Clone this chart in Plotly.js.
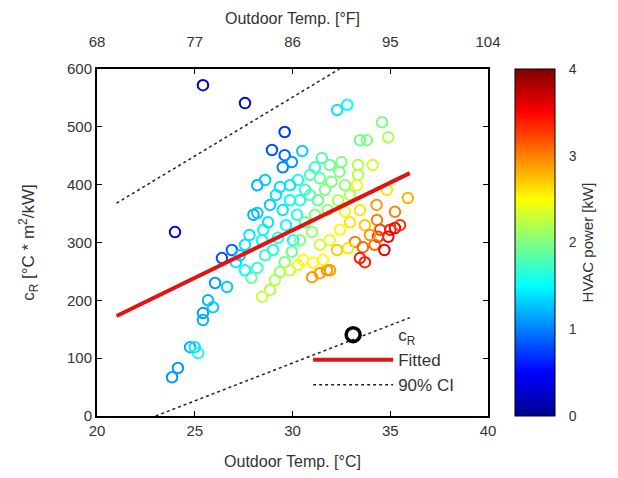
<!DOCTYPE html>
<html><head><meta charset="utf-8">
<script src="https://cdn.plot.ly/plotly-3.0.1.min.js"></script>
<style>html,body{margin:0;padding:0;background:#fff}</style>
</head><body><div id="chart" style="width:618px;height:478px"></div>
<script>
// Outdoor temperature [°C]
const tempC = [25.42,27.57,23.99,23.84,24.14,24.76,25.17,25.0,25.42,25.42,25.68,25.93,26.04,26.65,26.39,26.9,27.1,27.3,27.57,27.8,28.0,28.2,28.5,28.75,28.85,29.15,29.36,29.5,29.67,29.87,30.03,30.23,29.6,28.95,29.6,29.5,29.97,30.5,32.28,32.8,31.15,31.5,31.9,32.5,30.9,31.4,34.58,33.45,33.8,34.9,32.4,33.35,34.1,33.35,33.3,34.83,35.9,34.3,35.24,34.32,34.48,35.0,35.24,34.9,34.37,33.2,33.6,33.45,32.28,31.92,31.0,31.4,31.76,30.54,31.05,31.56,28.85,28.44,30.28,30.64,29.87,30.38,30.9,31.3,31.66,32.0,32.68,32.94,32.33,31.8,31.15,30.64,31.0,30.38,29.97,29.6,29.36,29.1,29.87,30.28,31.4,31.9,32.43,32.94,32.68,33.45,33.7,32.84,28.6,28.2,27.9,28.44,29.0,29.26,27.57,28.2,28.6,34.2,33.96,35.5,34.7,33.7];
// c_R [°C * m^2/kW]
const cR = [572,541,318,67,83,119,109,119,178,166,200,188,230,223,273,287,266,278,296,313,348,351,322,335,365,382,396,356,330,373,304,348,491,460,451,430,439,458,529,538,430,446,434,439,417,411,508,477,477,482,422,434,434,417,399,391,377,365,353,339,322,322,325,310,310,301,292,273,287,252,240,247,252,270,265,270,218,206,408,391,399,373,382,373,391,405,399,382,373,356,348,335,318,304,284,266,249,235,252,261,296,304,322,335,353,356,330,290,278,256,239,304,287,308,252,399,408,296,313,330,287,266];
// HVAC power [kW]
const power = [0.3,0.35,0.4,1.1,1.1,1.2,1.6,1.4,1.1,1.2,1.2,1.3,1.1,1.3,0.8,0.9,1.4,1.3,1.4,1.4,1.2,1.3,1.5,1.4,1.3,1.4,1.4,1.4,1.5,1.5,1.5,1.6,0.7,0.8,0.9,1.0,1.1,1.3,1.4,1.5,1.7,1.8,1.9,2.0,1.8,1.9,2.0,1.9,2.0,2.2,2.0,2.2,2.3,2.2,2.4,2.6,2.8,2.9,3.0,3.0,3.2,3.4,3.5,3.5,3.3,3.0,3.1,3.4,2.7,2.9,2.9,2.9,2.9,2.5,2.5,2.5,2.2,2.3,1.6,1.7,1.4,1.6,1.8,1.9,2.0,2.0,2.1,2.2,2.2,2.1,2.0,1.9,2.1,2.0,1.9,2.0,2.1,2.2,2.3,2.4,2.3,2.4,2.5,2.6,2.4,2.6,2.7,2.6,1.7,1.7,1.9,1.5,1.6,1.6,1.5,1.2,1.3,3.1,2.9,3.3,3.6,3.4];
// Fitted line and 90% confidence bounds
const fitX = [21, 36], fitY = [173, 420];
const ciUpX = [21, 32.4], ciUpY = [368, 600];
const ciLoX = [23, 36], ciLoY = [0, 170];
// Top axis (°F)
const tickF = [68, 77, 86, 95, 104];
const rangeF = [68, 104];
const rangeCR = [0, 600];

const FONT = 'Liberation Sans, Arial, sans-serif';
const jet = [[0,'rgb(0,0,143)'],[0.125,'rgb(0,0,255)'],[0.375,'rgb(0,255,255)'],[0.625,'rgb(255,255,0)'],[0.875,'rgb(255,0,0)'],[1,'rgb(128,0,0)']];
const dotLine = {color: '#222', width: 1.5, dash: 'dot'};

const traces = [
  {x: tempC, y: cR, type: 'scatter', mode: 'markers', showlegend: false,
   marker: {symbol: 'circle-open', size: 10.5, color: power, colorscale: jet, cmin: 0, cmax: 4,
            line: {width: 2},
            colorbar: {x: 1.069, xanchor: 'left', xpad: 0, ypad: 0, thickness: 40, len: 1, lenmode: 'fraction', y: 0.5, yanchor: 'middle',
                       outlinewidth: 1, outlinecolor: '#000', tickvals: [0,1,2,3,4], ticks: 'outside', ticklen: 11, tickcolor: 'rgba(0,0,0,0)',
                       tickfont: {family: FONT, size: 14, color: '#333'},
                       title: {text: 'HVAC power [kW]', side: 'right', font: {family: FONT, size: 15, color: '#333'}}}}},
  {x: [null], y: [null], type: 'scatter', mode: 'markers', name: 'c<sub>R</sub>',
   marker: {symbol: 'circle-open', size: 14, color: '#000', line: {width: 3.5}}},
  {x: fitX, y: fitY, type: 'scatter', mode: 'lines', name: 'Fitted', line: {color: 'rgb(225,20,20)', width: 4}},
  {x: ciUpX, y: ciUpY, type: 'scatter', mode: 'lines', name: '90% CI', line: dotLine},
  {x: ciLoX, y: ciLoY, type: 'scatter', mode: 'lines', showlegend: false, line: dotLine},
  {x: rangeF, y: [null, null], xaxis: 'x2', yaxis: 'y2', type: 'scatter', mode: 'lines', showlegend: false, hoverinfo: 'skip'}
];

const axCommon = {ticks: 'inside', ticklen: 5, tickcolor: '#000', showline: true, linecolor: '#000', linewidth: 2,
                  showgrid: false, zeroline: false, tickfont: {family: FONT, size: 15, color: '#333'}};

const layout = {
  width: 618, height: 478,
  margin: {l: 97, r: 130, t: 69, b: 62},
  paper_bgcolor: '#fff', plot_bgcolor: '#fff',
  font: {family: FONT, size: 15, color: '#333'},
  showlegend: true,
  legend: {x: 0.54, y: 0.285, xanchor: 'left', yanchor: 'top', bgcolor: 'rgba(0,0,0,0)', itemwidth: 80,
           font: {family: FONT, size: 17, color: '#333'}, tracegroupgap: 0},
  xaxis: Object.assign({}, axCommon, {range: [20, 40], dtick: 5, tick0: 20,
          title: {text: 'Outdoor Temp. [°C]', standoff: 18, font: {family: FONT, size: 16, color: '#333'}}}),
  xaxis2: Object.assign({}, axCommon, {overlaying: 'x', side: 'top', range: rangeF, tickvals: tickF, ticklabelstandoff: 14,
          title: {text: 'Outdoor Temp. [°F]', standoff: 4, font: {family: FONT, size: 16, color: '#333'}}}),
  yaxis: Object.assign({}, axCommon, {range: rangeCR, dtick: 100,
          title: {text: 'c<sub>R</sub> [°C * m<sup>2</sup>/kW]', standoff: 28, font: {family: FONT, size: 17, color: '#333'}}}),
  yaxis2: Object.assign({}, axCommon, {overlaying: 'y', side: 'right', range: rangeCR, dtick: 100, showticklabels: false})
};

Plotly.newPlot('chart', traces, layout, {displayModeBar: false, staticPlot: true});
</script></body></html>
